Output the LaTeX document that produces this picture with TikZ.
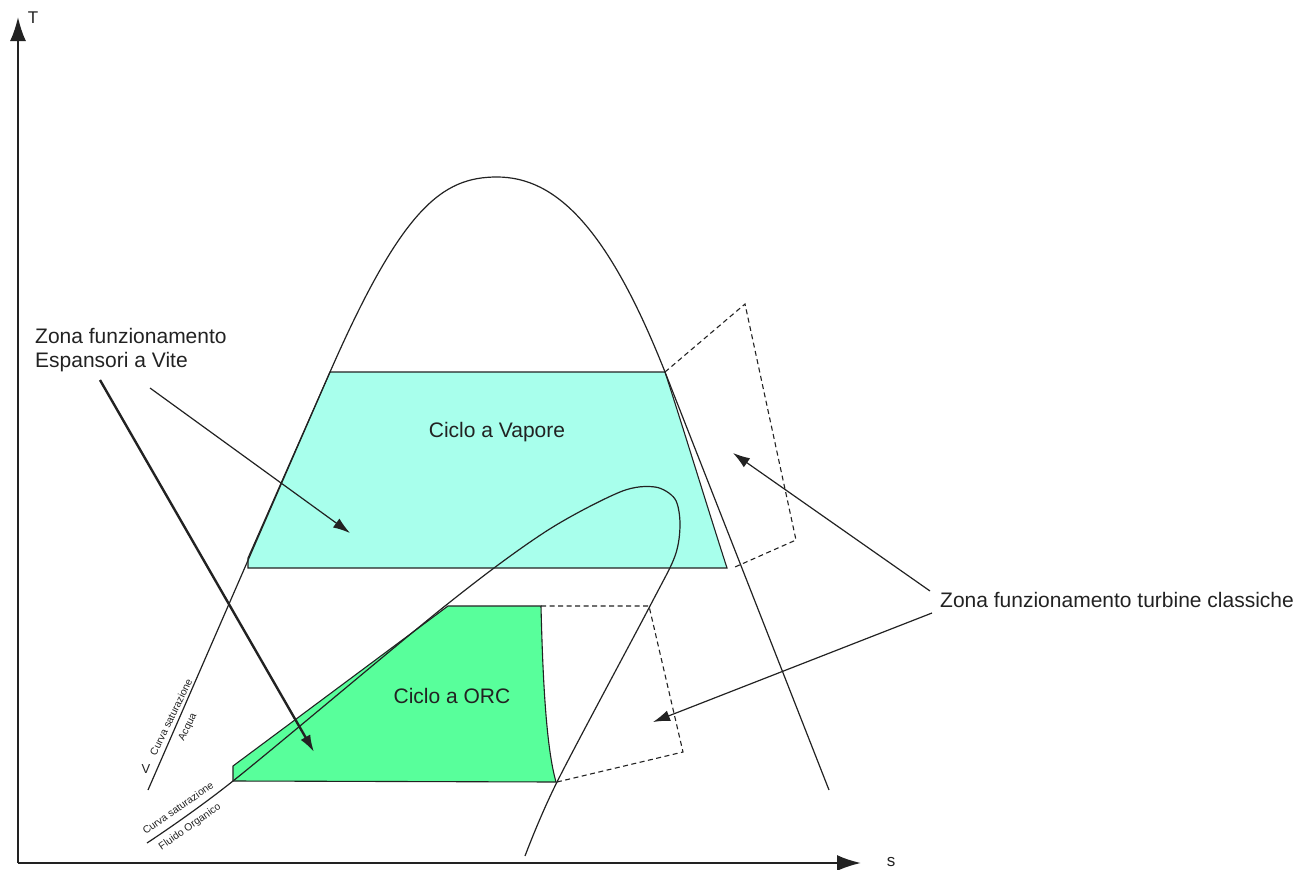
\documentclass[tikz,border=0pt]{standalone}
\usepackage{fontspec}
\setmainfont{Liberation Sans}
\usetikzlibrary{arrows.meta}
\definecolor{vapore}{RGB}{168,255,236}
\definecolor{orc}{RGB}{88,255,155}
\definecolor{tratto}{RGB}{34,34,34}
\tikzset{
  curva/.style={draw=tratto, line width=1.2pt},
  zona/.style={draw=tratto, line width=1.1pt},
  limite/.style={draw=tratto, line width=1.1pt, dash pattern=on 5pt off 3.5pt},
  freccia/.style={draw=tratto, line width=1.2pt, -{Latex[length=17pt,width=11pt]}},
  etichetta/.style={font=\fontsize{21}{24}\selectfont, text=tratto, align=left, inner sep=0pt},
  piccola/.style={font=\fontsize{10.3}{11}\selectfont, text=tratto, inner sep=0pt},
}
\begin{document}
\begin{tikzpicture}[x=1pt,y=-1pt]
\useasboundingbox (0,0) rectangle (1312,870);

% Zone dei cicli
\filldraw[zona, fill=vapore]
(248,568) -- (248,558) -- (330,372) -- (665,372)
.. controls (687,440) and (706,503) .. (727,568)
-- cycle;

\filldraw[zona, fill=orc]
(233,781) -- (233,766) -- (448,606) -- (541,606)
.. controls (543,690) and (547,750) .. (556,782)
-- cycle;

% Curva saturazione acqua
\draw[curva]
(148,790) -- (330,372)
.. controls (402,208) and (442,177) .. (497,177)
.. controls (556,177) and (608,228) .. (665,372)
-- (829,790);

% Curva saturazione fluido organico
\draw[curva]
plot[smooth, tension=0.5] coordinates {(147,843) (233,781) (445,606) (545,532) (620,492) (655,487) (675,499) (680,524) (675,556) (650,606) (557,782) (525,856)};

% Zone turbine
\draw[limite]
(665,372) -- (745,304) -- (796,540) -- (735,567);

\draw[limite]
(541,606) -- (649,606) -- (683,752) -- (557,782);

% Assi
\coordinate (O) at (18,863);
\coordinate (Tmax) at (18,17);
\coordinate (Smax) at (861,863);
\draw[line width=2pt, draw=tratto, -{Latex[length=24pt,width=16pt]}]
(O) -- (Tmax);
\draw[line width=2pt, draw=tratto, -{Latex[length=24pt,width=16pt]}]
(O) -- (Smax);
\node[font=\fontsize{17}{17}\selectfont, text=tratto] (T) at (33,18) {T};
\node[font=\fontsize{17}{17}\selectfont, text=tratto] (s) at (891,862) {s};

% Etichette
\node[etichetta, anchor=north west] (vite) at (35,328)
{Zona funzionamento\\Espansori a Vite};

\node[etichetta, anchor=base west] (turbine) at (940,607)
{Zona funzionamento turbine classiche};

\node[etichetta] (vap) at (497,432)
{Ciclo a Vapore};

\node[etichetta] (ciclo) at (452,696)
{Ciclo a ORC};

\node[piccola, rotate=64] (acqua1) at (171,717) {Curva saturazione};
\node[piccola, rotate=64] (acqua2) at (188,727) {Acqua};
\node[font=\fontsize{13}{13}\selectfont, text=tratto] (V) at (146,769) {V};
\node[piccola, rotate=35] (org1) at (178,808) {Curva saturazione};
\node[piccola, rotate=35] (org2) at (190,827) {Fluido Organico};

% Frecce
\coordinate (viteA) at (150,388);
\coordinate (viteB) at (100,380);
\coordinate (vapTip) at (350,533);
\coordinate (orcTip) at (314,752);
\coordinate (turbA) at (930,591);
\coordinate (turbB) at (932,613);
\coordinate (turbTip1) at (733,453);
\coordinate (turbTip2) at (653,722);

\draw[freccia] (viteA) -- (vapTip);
\draw[freccia, line width=2.4pt] (viteB) -- (orcTip);
\draw[freccia] (turbA) -- (turbTip1);
\draw[freccia] (turbB) -- (turbTip2);

\end{tikzpicture}
\end{document}
